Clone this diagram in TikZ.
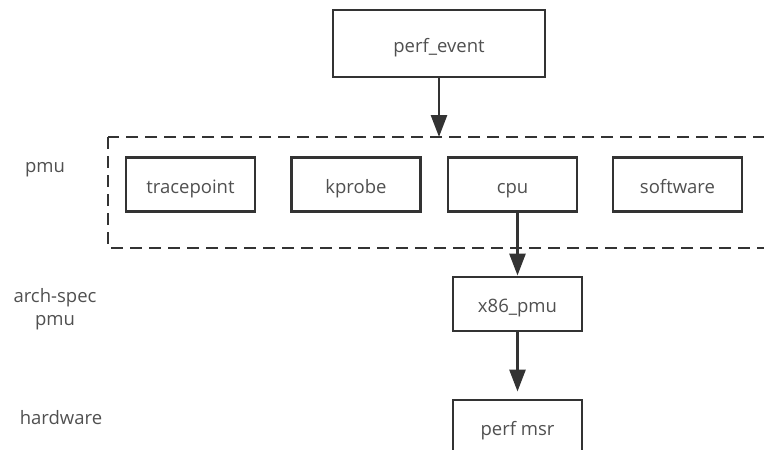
\documentclass[tikz,border=0pt]{standalone}
\usepackage{fontspec}
\setmainfont{Open Sans}
\usetikzlibrary{arrows.meta}
\definecolor{edge}{HTML}{333333}
\definecolor{ink}{HTML}{505050}
\begin{document}
\begin{tikzpicture}[x=1pt,y=-1pt,
  every node/.style={font=\fontsize{18.5}{23}\selectfont, text=ink},
  block/.style={draw=edge, line width=2.9pt, fill=white, minimum width=129pt, minimum height=54pt, inner sep=0pt, text height=18pt, text depth=1pt},
  link/.style={draw=edge, line width=2.8pt, -{Triangle[width=16pt,length=22pt]}},
  group/.style={draw=edge, line width=2.7pt, dash pattern=on 12pt off 7pt},
  tag/.style={align=center}]
  \clip (0,0) rectangle (764,450);

  % pmu group frame (its right side runs past the page edge)
  \draw[group] (108,137) rectangle (772,248);

  \node[block, minimum width=212pt, minimum height=67pt] (event) at (439,43.5) {perf\_event};
  \coordinate (grouptop) at (439,137);

  \node[block] (trace) at (190.5,184.5) {tracepoint};
  \node[block] (kprobe) at (356,184.5) {kprobe};
  \node[block] (cpu) at (512.5,184.5) {cpu};
  \node[block] (soft) at (677.5,184.5) {software};

  \node[block] (arch) at (517.5,304) {x86\_pmu};
  \node[block] (msr) at (517.5,427) {perf msr};

  \draw[link] (event) -- (grouptop);
  \draw[link] (arch.north |- cpu.south) -- (arch.north);
  \draw[link, shorten >=7pt] (arch) -- (msr);

  % layer labels
  \node[tag] (lpmu) at (45,170) {pmu};
  \node[tag] (larch) at (55,309) {arch-spec\\pmu};
  \node[tag] (lhw) at (61,418) {hardware};
\end{tikzpicture}
\end{document}
